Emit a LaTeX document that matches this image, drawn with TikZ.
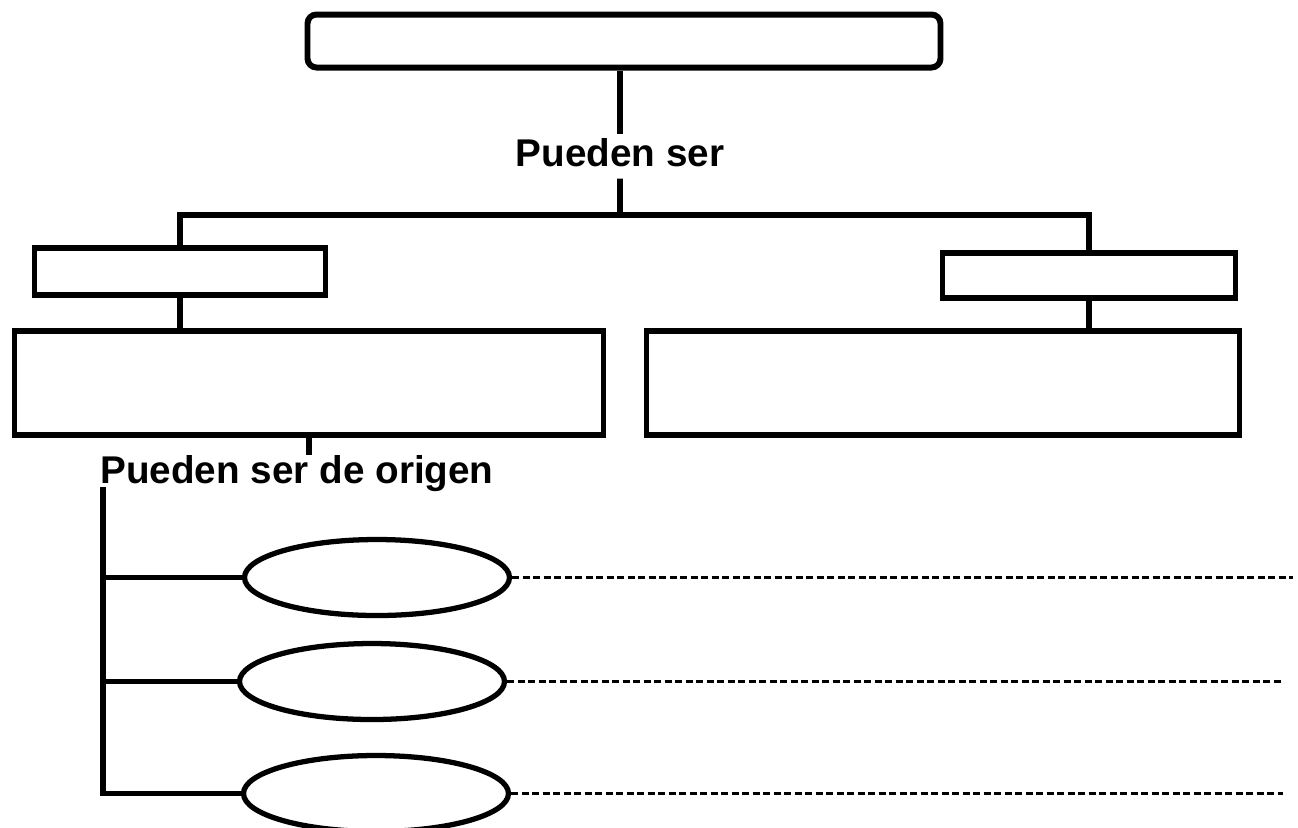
\documentclass[tikz,border=0pt]{standalone}
\usepackage{fontspec}
\setmainfont{Liberation Sans}
\usepackage{tikz}
\usetikzlibrary{shapes.geometric,positioning}

\tikzset{
	box/.style	= {draw, line width=1.7pt, inner sep=0pt},
	oval/.style	= {draw, ellipse, line width=1.5pt, inner sep=0pt,
			   minimum width=2.65cm, minimum height=0.76cm},
	lbl/.style	= {font=\fontsize{11}{13}\selectfont\bfseries, inner sep=1pt,
			   text height=8pt, text depth=2.2pt},
	link/.style	= {line width=1.6pt},
	blank/.style	= {line width=1.05pt, dash pattern=on 0.07cm off 0.035cm}
}

\begin{document}
\begin{tikzpicture}[node distance = 1cm, on grid, auto]
	\clip (0,0) rectangle (12.98,-8.27);
	\useasboundingbox (0,0) rectangle (12.98,-8.27);

	\node	(top)	[box, rounded corners=0.09cm, minimum width=6.33cm, minimum height=0.53cm]
			at (6.24,-0.41)				{};
	\node	(lbl1)	[lbl, below=1.155 of top, xshift=-0.04cm]	{Pueden ser};
	\node	(lsmall) [box, minimum width=2.91cm, minimum height=0.47cm,
			below=2.30 of top, xshift=-4.44cm]	{};
	\node	(rsmall) [box, minimum width=2.93cm, minimum height=0.45cm,
			below=2.34 of top, xshift=4.65cm]	{};
	\node	(lbig)	[box, minimum width=5.89cm, minimum height=1.04cm,
			below=1.115 of lsmall, xshift=1.29cm]	{};
	\node	(rbig)	[box, minimum width=5.93cm, minimum height=1.04cm,
			below=1.075 of rsmall, xshift=-1.46cm]	{};
	\node	(lbl2)	[lbl, inner sep=0pt, below=0.91 of lbig, xshift=-0.12cm]
							{Pueden ser de origen};
	\node	(e1)	[oval, below=1.04 of lbl2, xshift=0.80cm]	{};
	\node	(e2)	[oval, below=1.04 of e1, xshift=-0.05cm]	{};
	\node	(e3)	[oval, below=1.12 of e2, xshift=0.04cm]		{};

	\coordinate (jn)	at (6.20,-2.15);
	\coordinate (vtop)	at (1.03,-4.87);
	\coordinate (d1)	at (12.93,-5.80);
	\coordinate (d2)	at (12.83,-6.86);
	\coordinate (d3)	at (12.83,-7.95);

	% tree above
	\draw [link] (top.south -| lbl1) -- (lbl1.north);
	\draw [link] (lbl1.south) -- (jn);
	\draw [link] (lsmall.north) |- (jn) -| (rsmall.north);
	\draw [link] (lsmall.south) -- (lsmall.south |- lbig.north);
	\draw [link] (rsmall.south) -- (rsmall.south |- rbig.north);
	\draw [link] (lbig.south) -- (lbig.south |- lbl2.north);

	% origins
	\draw [link] (vtop) |- (e3.west);
	\draw [link] (vtop |- e1.west) -- (e1.west);
	\draw [link] (vtop |- e2.west) -- (e2.west);

	\draw [blank] (e1.east) -- (e1.east -| d1);
	\draw [blank] (e2.east) -- (e2.east -| d2);
	\draw [blank] (e3.east) -- (e3.east -| d3);

\end{tikzpicture}
\end{document}
